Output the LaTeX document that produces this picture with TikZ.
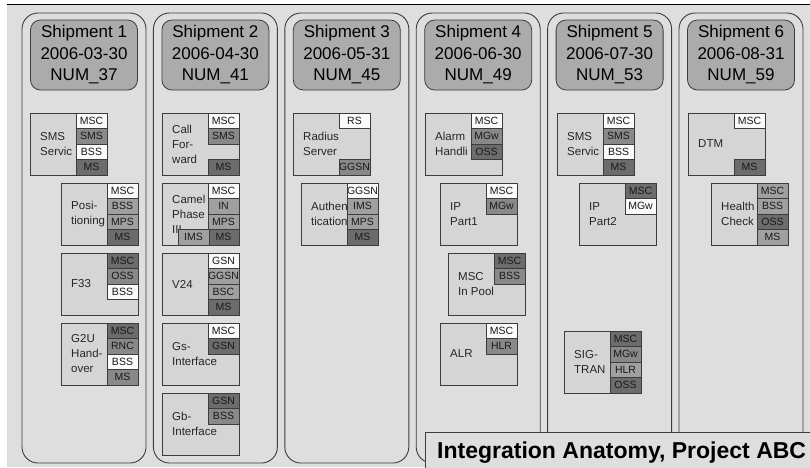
\documentclass[tikz,border=0pt]{standalone}
\usepackage{fontspec}
\setmainfont{Liberation Sans}
\definecolor{bg}{HTML}{DEDEDE}
\definecolor{boxfill}{HTML}{D5D5D5}
\definecolor{hdr}{HTML}{ABABAB}
\definecolor{edge}{HTML}{3C3C3C}
\definecolor{tW}{HTML}{FAFAFA}
\definecolor{tL}{HTML}{A0A0A0}
\definecolor{tM}{HTML}{898989}
\definecolor{tD}{HTML}{6C6C6C}
\newcommand\feat[4]{\node[feat] (#1) at (#2,#3) {};\node[ftext] (#1-t) at ([xshift=10pt]#1.west) {#4};}
\newcommand\tg[4]{\node[tagc, fill=#3, path picture={\node[tagt] at (path picture bounding box.center) {#4};}] (#1-#2) at ([xshift=-31pt, yshift={-(#2-1)*15.5pt}]#1.north east) {};}
\begin{document}
\begin{tikzpicture}[x=1pt,y=-1pt,
  colbox/.style={draw=edge, line width=0.9pt, rounded corners=16pt, minimum width=124pt, minimum height=450pt, inner sep=0pt, outer sep=0pt, anchor=north west},
  hdrbox/.style={draw=edge, fill=hdr, line width=0.8pt, rounded corners=10pt, minimum width=107pt, minimum height=70pt, inner sep=0pt, outer sep=0pt, align=center, font=\fontsize{17}{21.5}\selectfont, anchor=north west},
  feat/.style={draw=edge, fill=boxfill, line width=0.8pt, minimum width=77pt, minimum height=62pt, inner sep=0pt, outer sep=0pt, anchor=north west},
  ftext/.style={anchor=west, align=left, inner sep=0pt, font=\fontsize{11.5}{15}\selectfont, text=black!85},
  tagc/.style={draw=edge, line width=0.6pt, minimum width=31pt, minimum height=15.5pt, inner sep=0pt, outer sep=0pt, anchor=north west},
  tagt/.style={draw=none, fill=none, anchor=center, inner sep=0pt, minimum width=0pt, minimum height=0pt, font=\fontsize{10.5}{12}\selectfont, text=black!90},
  titlebox/.style={draw=edge, fill=bg, line width=0.9pt, minimum width=400pt, minimum height=60pt, inner sep=0pt, outer sep=0pt, anchor=north west},
  titletext/.style={anchor=base west, inner sep=0pt, font=\bfseries\fontsize{23}{26}\selectfont},
]
\useasboundingbox (0,0) rectangle (810,467);
\clip (0,0) rectangle (810,467);
\fill[white] (0,0) rectangle (810,467);
\fill[bg] (7,4) rectangle (810,467);
\draw[black, line width=1pt] (7,4) -- (810,4);

% columns
\node[colbox] (c1) at (22,13) {};
\node[colbox] (c2) at (153.4,13) {};
\node[colbox] (c3) at (284.8,13) {};
\node[colbox] (c4) at (416.2,13) {};
\node[colbox] (c5) at (547.6,13) {};
\node[colbox] (c6) at (679,13) {};

% headers
\node[hdrbox] (h1) at (30.5,20) {Shipment 1\\2006-03-30\\NUM\_37};
\node[hdrbox] (h2) at (161.9,20) {Shipment 2\\2006-04-30\\NUM\_41};
\node[hdrbox] (h3) at (293.3,20) {Shipment 3\\2006-05-31\\NUM\_45};
\node[hdrbox] (h4) at (424.7,20) {Shipment 4\\2006-06-30\\NUM\_49};
\node[hdrbox] (h5) at (556.1,20) {Shipment 5\\2006-07-30\\NUM\_53};
\node[hdrbox] (h6) at (687.5,20) {Shipment 6\\2006-08-31\\NUM\_59};

% column 1
\feat{sms1}{30}{113}{SMS\\Servic}
\tg{sms1}{1}{tW}{MSC}\tg{sms1}{2}{tM}{SMS}\tg{sms1}{3}{tW}{BSS}\tg{sms1}{4}{tD}{MS}
\feat{pos}{61}{183}{Posi-\\tioning}
\tg{pos}{1}{tW}{MSC}\tg{pos}{2}{tL}{BSS}\tg{pos}{3}{tL}{MPS}\tg{pos}{4}{tD}{MS}
\feat{f33}{61}{253}{F33}
\tg{f33}{1}{tD}{MSC}\tg{f33}{2}{tM}{OSS}\tg{f33}{3}{tW}{BSS}
\feat{g2u}{61}{323}{G2U\\Hand-\\over}
\tg{g2u}{1}{tD}{MSC}\tg{g2u}{2}{tM}{RNC}\tg{g2u}{3}{tW}{BSS}\tg{g2u}{4}{tM}{MS}

% column 2
\feat{cf}{162}{113}{Call\\For-\\ward}
\tg{cf}{1}{tW}{MSC}\tg{cf}{2}{tM}{SMS}\tg{cf}{4}{tD}{MS}
\feat{cam}{162}{183}{Camel\\Phase\\III}
\tg{cam}{1}{tW}{MSC}\tg{cam}{2}{tL}{IN}\tg{cam}{3}{tL}{MPS}\tg{cam}{4}{tD}{MS}
\node[tagc, fill=tL, path picture={\node[tagt] at (path picture bounding box.center) {IMS};}] (cam-ims) at ([xshift=-61pt, yshift=-46.5pt]cam.north east) {};
\feat{v24}{162}{253}{V24}
\tg{v24}{1}{tW}{GSN}\tg{v24}{2}{tL}{GGSN}\tg{v24}{3}{tL}{BSC}\tg{v24}{4}{tD}{MS}
\feat{gs}{162}{323}{Gs-\\Interface}
\tg{gs}{1}{tW}{MSC}\tg{gs}{2}{tD}{GSN}
\feat{gb}{162}{393}{Gb-\\Interface}
\tg{gb}{1}{tD}{GSN}\tg{gb}{2}{tM}{BSS}

% column 3
\feat{rad}{293}{113}{Radius\\Server}
\tg{rad}{1}{tW}{RS}\tg{rad}{4}{tM}{GGSN}
\feat{auth}{301}{183}{Authen\\tication}
\tg{auth}{1}{tW}{GGSN}\tg{auth}{2}{tL}{IMS}\tg{auth}{3}{tL}{MPS}\tg{auth}{4}{tD}{MS}

% column 4
\feat{alarm}{425}{113}{Alarm\\Handli}
\tg{alarm}{1}{tW}{MSC}\tg{alarm}{2}{tM}{MGw}\tg{alarm}{3}{tD}{OSS}
\feat{ip1}{440}{183}{IP\\Part1}
\tg{ip1}{1}{tW}{MSC}\tg{ip1}{2}{tM}{MGw}
\feat{pool}{448}{253}{MSC\\In Pool}
\tg{pool}{1}{tD}{MSC}\tg{pool}{2}{tM}{BSS}
\feat{alr}{440}{323}{ALR}
\tg{alr}{1}{tW}{MSC}\tg{alr}{2}{tM}{HLR}

% column 5
\feat{sms5}{557}{113}{SMS\\Servic}
\tg{sms5}{1}{tW}{MSC}\tg{sms5}{2}{tM}{SMS}\tg{sms5}{3}{tW}{BSS}\tg{sms5}{4}{tD}{MS}
\feat{ip2}{579}{183}{IP\\Part2}
\tg{ip2}{1}{tD}{MSC}\tg{ip2}{2}{tW}{MGw}
\feat{sig}{564}{331}{SIG-\\TRAN}
\tg{sig}{1}{tD}{MSC}\tg{sig}{2}{tM}{MGw}\tg{sig}{3}{tL}{HLR}\tg{sig}{4}{tD}{OSS}

% column 6
\feat{dtm}{688}{113}{DTM}
\tg{dtm}{1}{tW}{MSC}\tg{dtm}{4}{tD}{MS}
\feat{hc}{711}{183}{Health\\Check}
\tg{hc}{1}{tL}{MSC}\tg{hc}{2}{tL}{BSS}\tg{hc}{3}{tD}{OSS}\tg{hc}{4}{tL}{MS}

% title
\node[titlebox] (tb) at (425,432) {};
\node[titletext] (tt) at (437,458) {Integration Anatomy, Project ABC};
\end{tikzpicture}
\end{document}
